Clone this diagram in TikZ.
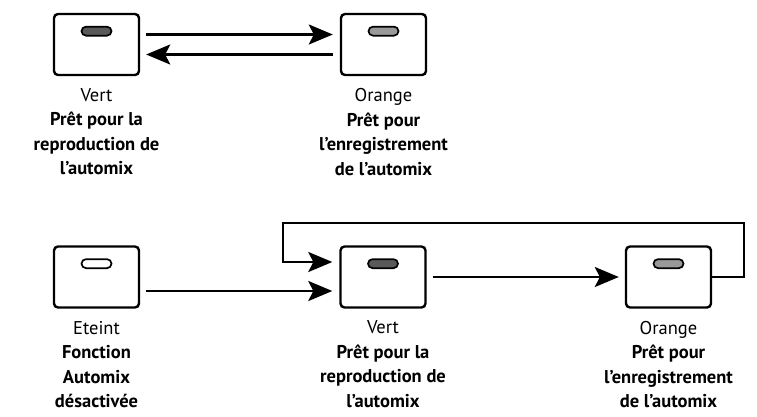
\documentclass[tikz,border=0pt]{standalone}
\usepackage{fontspec}
\setmainfont{PT Sans}
\usepackage{tikz}
\usetikzlibrary{arrows.meta,positioning}

\tikzset{
  box/.style={draw,line width=2.4pt,rounded corners=4pt,minimum width=85pt,minimum height=61pt},
  led/.style={draw,line width=1.7pt,rounded corners=4.5pt,minimum width=30pt,minimum height=9pt,inner sep=0pt},
  caption/.style={align=center,inner sep=0pt,font=\fontsize{18.5}{24.5}\selectfont},
  flow/.style={line width=2.2pt,-{Stealth[length=24pt,width=20pt,inset=5pt]}}
}

\begin{document}
\begin{tikzpicture}[x=1pt,y=-1pt]
\useasboundingbox (0,0) rectangle (757,416);

	% ligne du haut
	\node[box] (lv) at (96.5,44.5) {};
	\node[box] (lo) at (383.5,44.5) {};
	\node[led,fill=black!65,below=13pt of lv.north] (lvled) {};
	\node[led,fill=black!40,below=13pt of lo.north] (loled) {};
	\node[caption,below=12pt of lv] (lvtxt) {Vert\\\textbf{Prêt pour la}\\\textbf{reproduction de}\\\textbf{l’automix}};
	\node[caption,below=12pt of lo] (lotxt) {Orange\\\textbf{Prêt pour}\\\textbf{l’enregistrement}\\\textbf{de l’automix}};
	\draw[flow,shorten <=6pt,shorten >=7pt] ([yshift=10pt]lv.east) -- ([yshift=10pt]lo.west);
	\draw[flow,shorten <=7pt,shorten >=6pt] ([yshift=-10pt]lo.west) -- ([yshift=-10pt]lv.east);

	% ligne du bas
	\node[box] (off) at (96.5,277) {};
	\node[box] (mv) at (383,277) {};
	\node[box] (mo) at (668.5,277) {};
	\node[led,fill=white,below=13pt of off.north] (offled) {};
	\node[led,fill=black!65,below=13pt of mv.north] (mvled) {};
	\node[led,fill=black!40,below=13pt of mo.north] (moled) {};
	\node[caption,below=12pt of off] (offtxt) {Eteint\\\textbf{Fonction}\\\textbf{Automix}\\\textbf{désactivée}};
	\node[caption,below=12pt of mv] (mvtxt) {Vert\\\textbf{Prêt pour la}\\\textbf{reproduction de}\\\textbf{l’automix}};
	\node[caption,below=12pt of mo] (motxt) {Orange\\\textbf{Prêt pour}\\\textbf{l’enregistrement}\\\textbf{de l’automix}};
	\draw[flow,shorten <=6pt,shorten >=7pt] ([yshift=-14pt]off.east) -- ([yshift=-14pt]mv.west);
	\draw[flow,shorten <=6pt,shorten >=6pt] (mv.east) -- (mo.west);

	% retour orange -> vert
	\coordinate (r1) at (744,277);
	\coordinate (r2) at (744,223);
	\coordinate (r3) at (283,223);
	\coordinate (r4) at (283,262);
	\draw[flow,shorten >=7pt] (mo.east) -- (r1) -- (r2) -- (r3) -- (r4) -- ([yshift=15pt]mv.west);
\end{tikzpicture}
\end{document}
